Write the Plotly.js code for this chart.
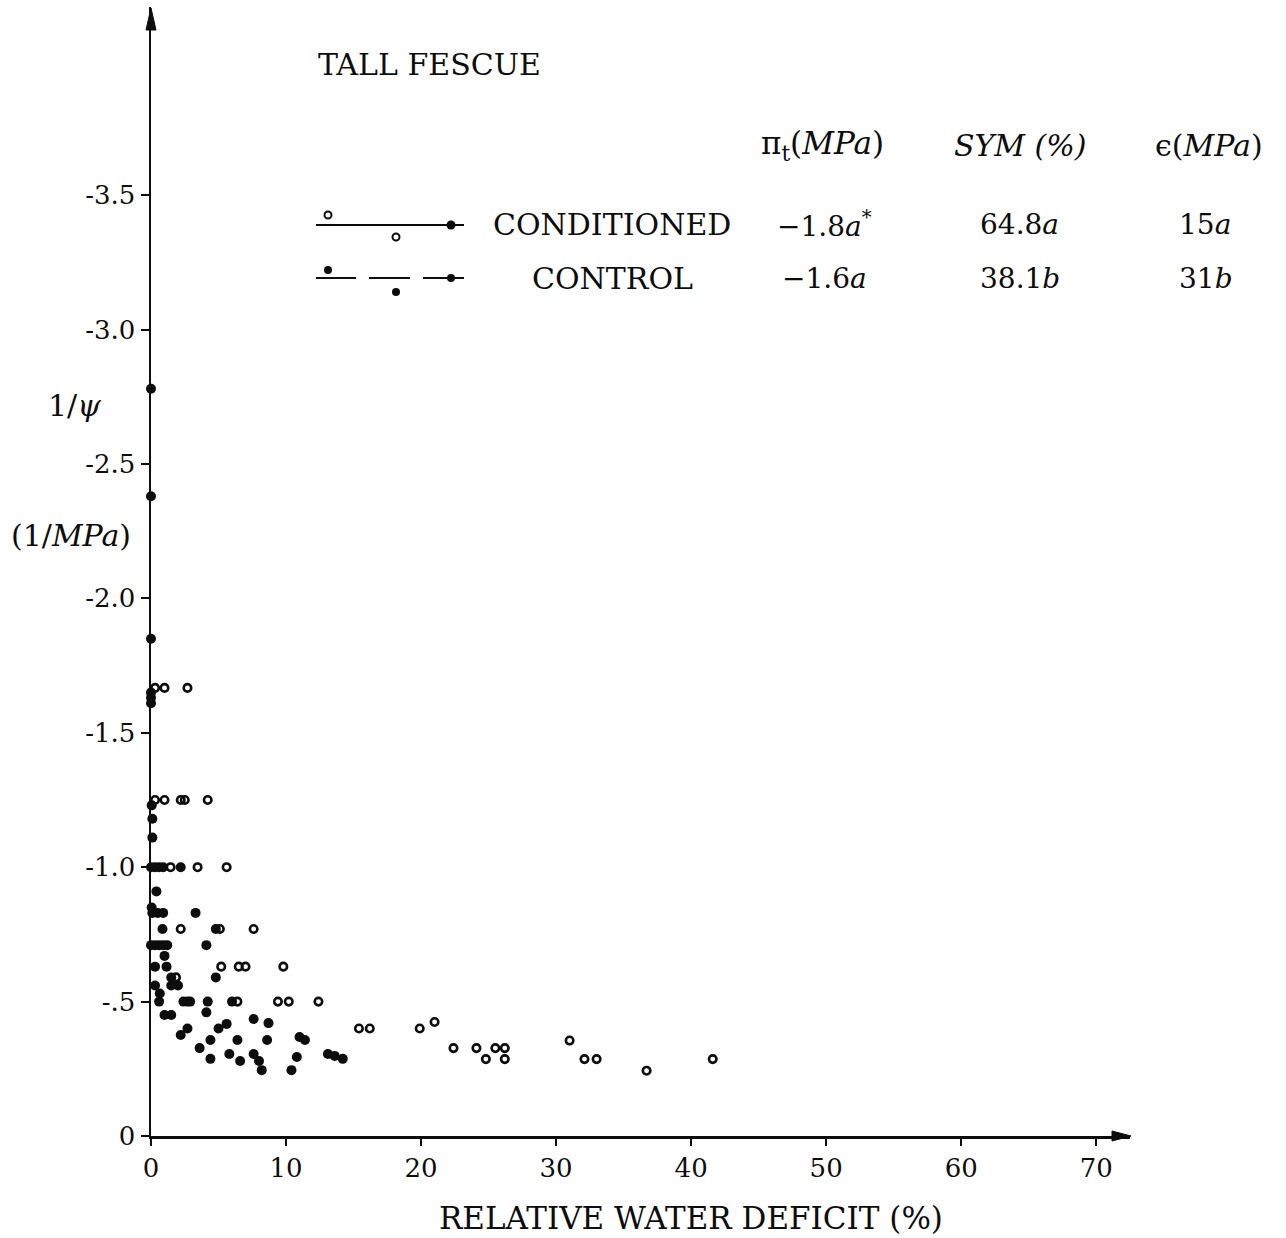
<!DOCTYPE html>
<html>
<head>
<meta charset="utf-8">
<script src="https://cdn.plot.ly/plotly-3.0.1.min.js"></script>
<style>html,body{margin:0;padding:0;background:#fff;}</style>
</head>
<body>
<div id="chart" style="width:1286px;height:1238px;"></div>
<script>
// ---- DATA ----
// Control (filled circles): relative water deficit (%) and 1/psi (1/MPa)
const controlX = [0, 0, 0, 0, 0, 0,
  0.05, 0.1, 0.1,
  0.0, 0.3, 0.6, 0.9, 2.2,
  0.4, 0.05,
  0.1, 0.5, 0.9, 3.3,
  0.85, 4.8,
  0.0, 0.3, 0.6, 0.9, 1.2, 4.1,
  1.0,
  0.3, 1.15,
  1.5, 4.8,
  0.3, 1.5, 2.0,
  0.65,
  0.6, 2.4, 2.7, 2.9, 4.2, 6.0,
  4.1, 1.0, 1.5,
  7.6, 8.7, 5.6, 5.0, 2.7, 2.2,
  6.4, 4.4, 8.6, 11.0, 11.4,
  3.6, 4.4, 5.8, 6.6, 7.6, 8.0, 8.2, 10.4, 10.8,
  13.1, 13.6, 14.2];
const controlY = [-2.78, -2.38, -1.85, -1.65, -1.63, -1.61,
  -1.23, -1.18, -1.11,
  -1.0, -1.0, -1.0, -1.0, -1.0,
  -0.91, -0.85,
  -0.83, -0.83, -0.83, -0.83,
  -0.77, -0.77,
  -0.71, -0.71, -0.71, -0.71, -0.71, -0.71,
  -0.67,
  -0.63, -0.63,
  -0.59, -0.59,
  -0.56, -0.56, -0.56,
  -0.53,
  -0.5, -0.5, -0.5, -0.5, -0.5, -0.5,
  -0.46, -0.45, -0.45,
  -0.435, -0.42, -0.417, -0.40, -0.40, -0.376,
  -0.357, -0.357, -0.357, -0.368, -0.357,
  -0.327, -0.287, -0.305, -0.279, -0.305, -0.279, -0.245, -0.245, -0.294,
  -0.305, -0.298, -0.287];

// Conditioned (open circles)
const conditionedX = [0.3, 1.0, 2.7,
  0.3, 1.0, 2.2, 2.5, 4.2,
  1.45, 3.45, 5.6,
  2.2, 5.1, 7.6,
  5.2, 6.5, 7.0, 9.8,
  1.85,
  6.4, 9.4, 10.2, 12.4,
  15.4, 16.2, 19.9, 21.0,
  22.4, 24.1, 25.5, 26.2,
  24.8, 26.2,
  31.0, 32.1, 33.0, 36.7, 41.6];
const conditionedY = [-1.667, -1.667, -1.667,
  -1.25, -1.25, -1.25, -1.25, -1.25,
  -1.0, -1.0, -1.0,
  -0.77, -0.77, -0.77,
  -0.63, -0.63, -0.63, -0.63,
  -0.59,
  -0.5, -0.5, -0.5, -0.5,
  -0.40, -0.40, -0.40, -0.424,
  -0.327, -0.327, -0.327, -0.327,
  -0.286, -0.286,
  -0.355, -0.286, -0.286, -0.243, -0.286];

// Tick labels
const xTickVals = [0, 10, 20, 30, 40, 50, 60, 70];
const xTickText = ['0', '10', '20', '30', '40', '50', '60', '70'];
const yTickVals = [0, -0.5, -1.0, -1.5, -2.0, -2.5, -3.0, -3.5];
const yTickText = ['0', '-.5', '-1.0', '-1.5', '-2.0', '-2.5', '-3.0', '-3.5'];

// Table in the legend
const seriesNames = ['CONDITIONED', 'CONTROL'];
const tableHeaders = ['π<sub>t</sub>(<i>MPa</i>)', '<i>SYM (%)</i>', 'ϵ(<i>MPa</i>)'];
const piT = ['−1.8<i>a</i><sup>*</sup>', '−1.6<i>a</i>'];
const sym = ['64.8<i>a</i>', '38.1<i>b</i>'];
const eps = ['15<i>a</i>', '31<i>b</i>'];

// ---- LAYOUT HELPERS ----
const W = 1286, H = 1238;
const L = 151, R = 1130, T = 7, B = 1136;
const px = x => (x - L) / (R - L);
const py = y => (B - y) / (B - T);
const FONT = 'DejaVu Serif, Liberation Serif, serif';
const INK = '#0d0d0d';

const traces = [
  {
    x: controlX, y: controlY, type: 'scatter', mode: 'markers', name: 'CONTROL',
    cliponaxis: false,
    marker: {symbol: 'circle', size: 10, color: INK, line: {width: 0}}
  },
  {
    x: conditionedX, y: conditionedY, type: 'scatter', mode: 'markers', name: 'CONDITIONED',
    cliponaxis: false,
    marker: {symbol: 'circle-open', size: 7.5, color: INK, line: {width: 2.6, color: INK}}
  }
];

function ann(text, xp, yp, size, xanchor) {
  return {text: text, xref: 'paper', yref: 'paper', x: px(xp), y: py(yp),
    xanchor: xanchor || 'center', yanchor: 'middle', showarrow: false,
    font: {family: FONT, size: size, color: INK}};
}

const annotations = [
  ann('TALL FESCUE', 316, 65, 30, 'left'),
  ann(tableHeaders[0], 822, 145, 31),
  ann(tableHeaders[1], 1020, 145, 30),
  ann(tableHeaders[2], 1209, 145, 30),
  ann(seriesNames[0], 612, 225, 30),
  ann(seriesNames[1], 612, 278, 30),
  ann(piT[0], 824, 225, 28), ann(piT[1], 824, 278, 28),
  ann(sym[0], 1019, 225, 28), ann(sym[1], 1020, 278, 28),
  ann(eps[0], 1205, 225, 28), ann(eps[1], 1206, 278, 28),
  ann('1/<i>ψ</i>', 74, 405, 30),
  ann('(1/<i>MPa</i>)', 71, 535, 30),
  ann('RELATIVE WATER DEFICIT (%)', 691, 1218, 31)
];

function circ(cx, cy, r, filled) {
  return {type: 'circle', xref: 'paper', yref: 'paper',
    x0: px(cx - r), x1: px(cx + r), y0: py(cy + r), y1: py(cy - r),
    line: {color: INK, width: filled ? 0 : 2}, fillcolor: filled ? INK : 'rgba(0,0,0,0)'};
}
function seg(x0, x1, y) {
  return {type: 'line', xref: 'paper', yref: 'paper', x0: px(x0), x1: px(x1), y0: py(y), y1: py(y),
    line: {color: INK, width: 2}};
}
function tri(p) {
  const d = 'M' + p.map(q => px(q[0]) + ',' + py(q[1])).join(' L') + ' Z';
  return {type: 'path', xref: 'paper', yref: 'paper', path: d,
    fillcolor: INK, line: {color: INK, width: 1}};
}
const shapes = [
  seg(316, 464, 225),
  circ(328, 215, 3.5, false), circ(396, 237, 3.5, false), circ(451, 225, 4.5, true),
  seg(316, 356, 278), seg(369, 410, 278), seg(423, 464, 278),
  circ(328, 270, 4, true), circ(396, 292, 4, true), circ(451, 278, 4, true),
  // axis arrowheads
  tri([[151, 8], [146, 30], [156, 30]]),
  tri([[1131, 1136], [1112, 1131], [1112, 1141]])
];

const layout = {
  width: W, height: H,
  margin: {l: L, r: W - R, t: T, b: H - B, pad: 0},
  paper_bgcolor: '#fff', plot_bgcolor: '#fff',
  showlegend: false,
  font: {family: FONT, color: INK},
  xaxis: {
    range: [0, 72.5], showgrid: false, zeroline: false,
    showline: true, linecolor: INK, linewidth: 2.5,
    ticks: 'outside', ticklen: 7, tickwidth: 2, tickcolor: INK,
    tickvals: xTickVals, ticktext: xTickText,
    tickfont: {family: FONT, size: 26, color: INK}
  },
  yaxis: {
    range: [0, -4.2], showgrid: false, zeroline: false,
    showline: true, linecolor: INK, linewidth: 2.5,
    ticks: 'outside', ticklen: 8, tickwidth: 2, tickcolor: INK,
    tickvals: yTickVals, ticktext: yTickText,
    tickfont: {family: FONT, size: 26, color: INK}
  },
  annotations: annotations,
  shapes: shapes
};

Plotly.newPlot('chart', traces, layout, {displayModeBar: false, staticPlot: true});
</script>
</body>
</html>
